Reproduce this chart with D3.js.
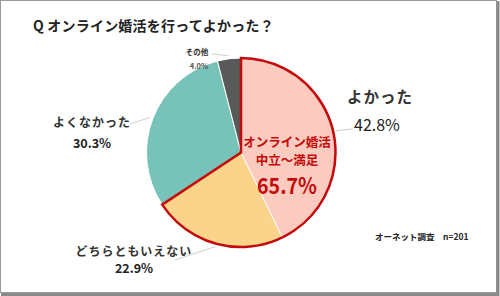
<!DOCTYPE html>
<html>
<head>
<meta charset="utf-8">
<script src="https://cdn.jsdelivr.net/npm/d3@7"></script>
<style>
  body { margin: 0; background: #fff; }
  svg text { font-family: "Noto Sans CJK JP", "Noto Sans", sans-serif; }
</style>
</head>
<body>
<script>
var categories = ["よかった", "どちらともいえない", "よくなかった", "その他"];
var values = [42.8, 22.9, 30.3, 4.0];
var colors = ["#FACBBE", "#F9D48A", "#77C3BA", "#595959"];
var title = "Q オンライン婚活を行ってよかった？";
var note = "オーネット調査　n=201";
var highlightLines = ["オンライン婚活", "中立～満足", "65.7%"];

var w = 500, h = 296;
var cx = 241, cy = 152.5, r = 94.5;

var svg = d3.select("body").append("svg")
	.attr("width", w)
	.attr("height", h);

// frame
svg.append("rect")
	.attr("x", 0.5).attr("y", 0.5)
	.attr("width", 496).attr("height", 292)
	.attr("fill", "#fff")
	.attr("stroke", "#9a9a9a")
	.attr("stroke-width", 1);
svg.append("path")
	.attr("d", "M498,1V294.5H1")
	.attr("fill", "none")
	.attr("stroke", "#8a8a8a")
	.attr("stroke-width", 3);

svg.append("text")
	.attr("x", 33).attr("y", 31)
	.attr("font-size", "14px")
	.attr("font-weight", "bold")
	.attr("fill", "#222")
	.attr("letter-spacing", "0.2px")
	.text(title);

var data = categories.map(function(c, i) { return { name: c, value: values[i], color: colors[i] }; });

var pie = d3.pie().sort(null).value(function(d) { return d.value; });
var arcs = pie(data);
var arc = d3.arc().innerRadius(0).outerRadius(r);
var lineArc = d3.arc().innerRadius(r + 3).outerRadius(r + 3);

var g = svg.append("g").attr("transform", "translate(" + cx + "," + cy + ")");

g.selectAll("path.slice")
	.data(arcs)
	.enter()
	.append("path")
	.attr("class", "slice")
	.attr("d", arc)
	.attr("fill", function(d) { return d.data.color; })
	.attr("stroke", "#fff")
	.attr("stroke-width", 1);

// red outline around よかった + どちらともいえない
var hiEnd = arcs[1].endAngle;
g.append("path")
	.attr("d", arc({ startAngle: 0, endAngle: hiEnd }))
	.attr("fill", "none")
	.attr("stroke", "#C40A0A")
	.attr("stroke-width", 2.5)
	.attr("stroke-linejoin", "miter");

// label layout for each slice
var labelPos = [
	{ lx: 353, ly: 129, tx: 347, px: 354, ny: 103, py: 131, anchor: "start", ns: 15.5, ps: 16, pw: "normal", pc: "#222" },
	{ lx: 175, ly: 260, tx: 134, px: 134, ny: 256, py: 273, anchor: "middle", ns: 12, ps: 12.5, pw: "bold", pc: "#222" },
	{ lx: 130, ly: 124, tx: 92, px: 92, ny: 127, py: 148, anchor: "middle", ns: 12, ps: 12.5, pw: "bold", pc: "#222" },
	{ lx: 212, ly: 54, tx: 197, px: 199, ny: 55, py: 69, anchor: "middle", ns: 7.5, ps: 7.5, pw: "bold", pc: "#555" }
];

svg.selectAll("line.leader")
	.data(arcs)
	.enter()
	.append("line")
	.attr("class", "leader")
	.attr("x1", function(d) { return cx + lineArc.centroid(d)[0]; })
	.attr("y1", function(d) { return cy + lineArc.centroid(d)[1]; })
	.attr("x2", function(d, i) { return labelPos[i].lx; })
	.attr("y2", function(d, i) { return labelPos[i].ly; })
	.attr("stroke", "#cfcfcf")
	.attr("stroke-width", 1);

svg.selectAll("text.name")
	.data(arcs)
	.enter()
	.append("text")
	.attr("class", "name")
	.attr("x", function(d, i) { return labelPos[i].tx; })
	.attr("y", function(d, i) { return labelPos[i].ny; })
	.attr("text-anchor", function(d, i) { return labelPos[i].anchor; })
	.attr("font-size", function(d, i) { return labelPos[i].ns + "px"; })
	.attr("font-weight", "bold")
	.attr("letter-spacing", function(d, i) { return i == 3 ? "0px" : "1px"; })
	.attr("fill", "#333")
	.text(function(d) { return d.data.name; });

svg.selectAll("text.pct")
	.data(arcs)
	.enter()
	.append("text")
	.attr("class", "pct")
	.attr("x", function(d, i) { return labelPos[i].px; })
	.attr("y", function(d, i) { return labelPos[i].py; })
	.attr("text-anchor", function(d, i) { return labelPos[i].anchor; })
	.attr("font-size", function(d, i) { return labelPos[i].ps + "px"; })
	.attr("font-weight", function(d, i) { return labelPos[i].pw; })
	.attr("fill", function(d, i) { return labelPos[i].pc; })
	.text(function(d) { return d.data.value.toFixed(1) + "%"; });

// highlight text inside the pie (two lines + big number)
var hx = cx + 46;
svg.append("text").attr("x", hx).attr("y", 146.5)
	.attr("text-anchor", "middle").attr("font-size", "12.5px").attr("font-weight", "bold")
	.attr("fill", "#C40A0A").text(highlightLines[0]);
svg.append("text").attr("x", hx).attr("y", 165)
	.attr("text-anchor", "middle").attr("font-size", "12.5px").attr("font-weight", "bold")
	.attr("fill", "#C40A0A").text(highlightLines[1]);

svg.append("text").attr("x", hx).attr("y", 194)
	.attr("text-anchor", "middle").attr("font-size", "22px").attr("font-weight", "bold")
	.attr("font-family", "'Liberation Sans', Arial, sans-serif")
	.attr("textLength", 60).attr("lengthAdjust", "spacingAndGlyphs")
	.attr("fill", "#C40A0A").text(highlightLines[2]);

svg.append("text")
	.attr("x", 375).attr("y", 240)
	.attr("font-size", "8.5px")
	.attr("font-weight", "bold")
	.attr("fill", "#222")
	.text(note);
</script>
</body>
</html>
